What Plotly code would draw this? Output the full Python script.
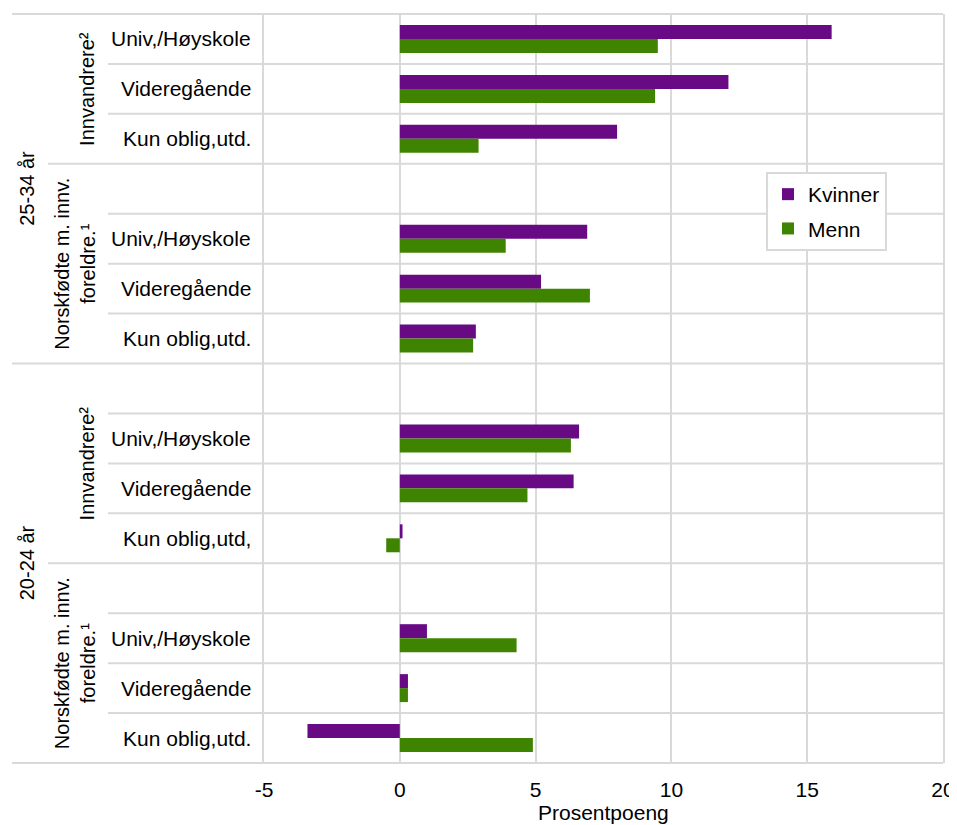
import plotly.graph_objects as go

# ---- data ----
age_groups = ["25-34 år", "20-24 år"]
origin_groups = ["Innvandrere²", "Norskfødte m. innv.<br>foreldre.¹",
                 "Innvandrere²", "Norskfødte m. innv.<br>foreldre.¹"]
education = ["Univ,/Høyskole", "Videregående", "Kun oblig,utd.", "",
             "Univ,/Høyskole", "Videregående", "Kun oblig,utd.", "",
             "Univ,/Høyskole", "Videregående", "Kun oblig,utd,", "",
             "Univ,/Høyskole", "Videregående", "Kun oblig,utd."]
kvinner = [15.9, 12.1, 8.0, None, 6.9, 5.2, 2.8, None, 6.6, 6.4, 0.1, None, 1.0, 0.3, -3.4]
menn = [9.5, 9.4, 2.9, None, 3.9, 7.0, 2.7, None, 6.3, 4.7, -0.5, None, 4.3, 0.3, 4.9]
x_tickvals = [-5, 0, 5, 10, 15, 20]
x_ticktext = ["-5", "0", "5", "10", "15", "20"]
x_title = "Prosentpoeng"

# group spans (row index ranges, inclusive)
age_spans = [(0, 6), (7, 14)]
origin_spans = [(0, 2), (3, 6), (7, 10), (11, 14)]

# ---- styling ----
PURPLE = "#690a85"
GREEN = "#3f8400"
GRID = "#d9d9d9"
FONT = "Liberation Sans, Arial, sans-serif"
FS = 21      # horizontal text
FS_ROT = 20  # rotated text
OFF = 8      # default body margin of the html page
W, H = 957 - OFF, 825 - OFF
# screen-space plot area
PX0, PX1, PY0, PY1 = 264, 943, 14, 763
L, T = PX0 - OFF, PY0 - OFF
R, B = W - (PX1 - OFF), H - (PY1 - OFF)
plot_w = PX1 - PX0
plot_h = PY1 - PY0
n = len(education)
rows = list(range(n))

fig = go.Figure()
fig.add_trace(go.Bar(y=rows, x=kvinner, name="Kvinner", orientation="h",
                     marker=dict(color=PURPLE, line=dict(width=0)), legendgroup="k"))
fig.add_trace(go.Bar(y=rows, x=menn, name="Menn", orientation="h",
                     marker=dict(color=GREEN, line=dict(width=0)), legendgroup="m"))


def sx(px):
    return (px - PX0) / plot_w


shapes = []
group_bounds = set([s for s, e in age_spans] + [age_spans[-1][1] + 1])
sub_bounds = set([s for s, e in origin_spans]) - group_bounds
for k in range(n + 1):
    if k in group_bounds:
        xstart = 12
    elif k in sub_bounds:
        xstart = 48
    else:
        xstart = 108
    yp = 1 - k / n
    shapes.append(dict(type="line", xref="paper", yref="paper",
                       x0=sx(xstart), x1=1, y0=yp, y1=yp,
                       line=dict(color=GRID, width=2), layer="below"))

annotations = []
for i, lab in enumerate(education):
    if lab:
        annotations.append(dict(text=lab, xref="paper", yref="y", x=0, y=i,
                                xanchor="right", yanchor="middle", xshift=253 - PX0,
                                showarrow=False, font=dict(size=FS, color="#000")))
origin_x = [87, 75, 87, 75]
for (s, e), lab, ox in zip(origin_spans, origin_groups, origin_x):
    annotations.append(dict(text=lab, xref="paper", yref="y", x=0, y=(s + e) / 2,
                            xanchor="center", yanchor="middle", xshift=ox - PX0,
                            textangle=-90, showarrow=False,
                            font=dict(size=FS_ROT, color="#000")))
for (s, e), lab in zip(age_spans, age_groups):
    annotations.append(dict(text=lab, xref="paper", yref="y", x=0, y=(s + e) / 2,
                            xanchor="center", yanchor="middle", xshift=27 - PX0,
                            textangle=-90, showarrow=False,
                            font=dict(size=FS_ROT, color="#000")))
# x-axis title
annotations.append(dict(text=x_title, xref="paper", yref="paper", x=0.5, y=0,
                        xanchor="center", yanchor="middle", yshift=-(812 - PY1),
                        showarrow=False, font=dict(size=FS, color="#000")))

fig.update_layout(
    width=W, height=H,
    margin=dict(l=L, r=R, t=T, b=B, pad=0, autoexpand=False),
    paper_bgcolor="white", plot_bgcolor="white",
    font=dict(family=FONT, size=FS, color="#000"),
    barmode="group", bargap=0.44, bargroupgap=0,
    showlegend=True,
    legend=dict(x=sx(766), y=(PY1 - 172) / plot_h,
                xanchor="left", yanchor="top",
                bordercolor=GRID, borderwidth=2, bgcolor="white",
                font=dict(size=FS, color="#000"), tracegroupgap=4,
                itemwidth=30),
    xaxis=dict(range=[-5, 20], tickvals=x_tickvals, ticktext=x_ticktext,
               showgrid=True, gridcolor=GRID, gridwidth=2,
               zeroline=True, zerolinecolor=GRID, zerolinewidth=2,
               showline=False, ticks="outside", ticklen=8,
               tickcolor="rgba(0,0,0,0)", automargin=False,
               ticklabeloverflow="allow",
               tickfont=dict(size=FS, color="#000")),
    yaxis=dict(range=[n - 0.5, -0.5], showticklabels=False, showgrid=False,
               zeroline=False, showline=True, mirror=True, linecolor=GRID,
               linewidth=2, ticks="", automargin=False),
    shapes=shapes,
    annotations=annotations,
)

fig.write_html("out.html")
